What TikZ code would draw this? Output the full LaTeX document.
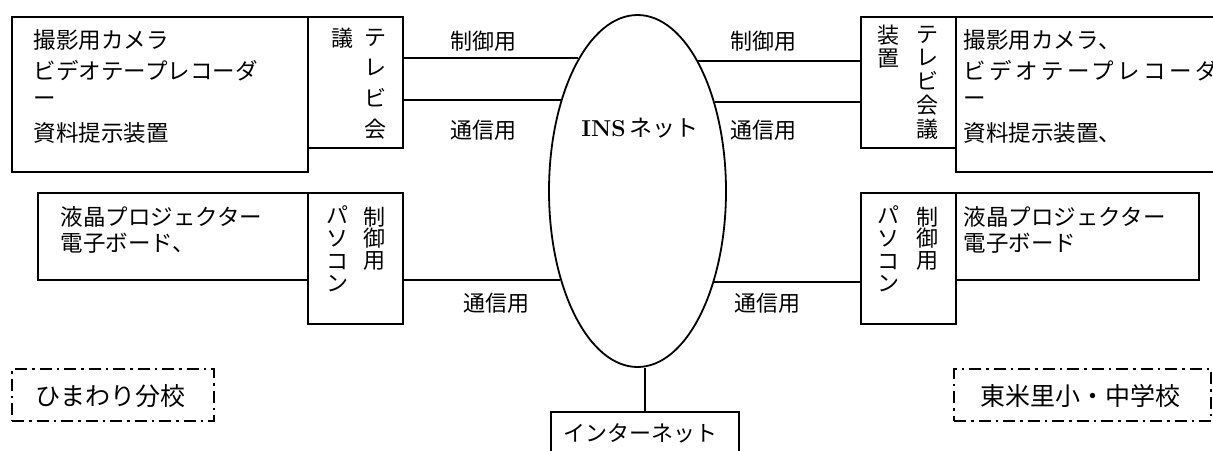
\documentclass[tikz,border=0pt]{standalone}
\usepackage{fontspec}
\newfontfamily\jp{Noto Sans CJK JP}
\usetikzlibrary{shapes.geometric}
\tikzset{
  box/.style={draw, line width=1.8pt, anchor=north west, inner sep=0pt},
  txt/.style={font=\jp\fontsize{22.5}{24}\selectfont, inner sep=0pt, anchor=west},
  vtxt/.style={font=\jp\fontsize{22}{#1}\selectfont, inner sep=0pt, align=center},
  vtxt/.default=23,
  lbl/.style={font=\jp\fontsize{22}{24}\selectfont, inner sep=0pt},
  school/.style={draw, line width=2pt, anchor=north west, inner sep=0pt,
    dash pattern=on 12pt off 5pt on 2.5pt off 5pt}
}
\begin{document}
\begin{tikzpicture}[x=1pt, y=-1pt, line width=1.8pt]
    \clip (0,0) rectangle (1213,450);
    % INSネット
    \node[draw, ellipse, line width=1.8pt, minimum width=177, minimum height=352] (ins) at (637.5,191) {};
    \node[inner sep=0pt] (insLbl) at (640,128) {\fontsize{23}{24}\selectfont\textbf{INS}\,{\jp ネット}};
    % ひまわり分校 側
    \node[box, minimum width=296, minimum height=155] (camL) at (11,16) {};
    \node[box, minimum width=95, minimum height=131] (tvL) at (307,16) {};
    \node[box, minimum width=270, minimum height=87] (lcdL) at (37,192) {};
    \node[box, minimum width=95, minimum height=131] (pcL) at (307,192) {};
    \node[txt] (camL1) at (33,40) {撮影用カメラ};
    \node[txt] (camL2) at (33,71) {ビデオテープレコーダ};
    \node[txt] (camL3) at (33,102) {ー};
    \node[txt] (camL4) at (33,133) {資料提示装置};
    \node[vtxt=30.7] (tvLa) at (375,84) {テ\\レ\\ビ\\会};
    \node[vtxt] (tvLb) at (342,38) {議};
    \node[txt] (lcdL1) at (60,217) {液晶プロジェクター};
    \node[txt] (lcdL2) at (60,243) {電子ボード、};
    \node[vtxt=21.5] (pcLa) at (374,238.5) {制\\御\\用};
    \node[vtxt=22.7] (pcLb) at (337,249) {パ\\ソ\\コ\\ン};
    % 東米里小・中学校 側
    \node[box, minimum width=95, minimum height=131] (tvR) at (860,16) {};
    \node[box, minimum width=280, minimum height=155] (camR) at (955,16) {};
    \node[box, minimum width=95, minimum height=131] (pcR) at (860,192) {};
    \node[box, minimum width=243, minimum height=87] (lcdR) at (955,192) {};
    \node[txt] (camR1) at (963,40) {撮影用カメラ、};
    \node[txt, font=\jp\fontsize{22.5}{24}\selectfont\addfontfeature{LetterSpace=15}] (camR2) at (963,71) {ビデオテープレコーダ};
    \node[txt] (camR3) at (963,102) {ー};
    \node[txt] (camR4) at (963,133) {資料提示装置、};
    \node[vtxt=23.75] (tvRa) at (927,82.5) {テ\\レ\\ビ\\会\\議};
    \node[vtxt=23] (tvRb) at (888,46.5) {装\\置};
    \node[txt] (lcdR1) at (963,217) {液晶プロジェクター};
    \node[txt] (lcdR2) at (963,243) {電子ボード};
    \node[vtxt=21.5] (pcRa) at (927,238.5) {制\\御\\用};
    \node[vtxt=22.7] (pcRb) at (888,249) {パ\\ソ\\コ\\ン};
    % 回線
    \draw (ins.114.2) -- (ins.114.2 -| tvL.east);
    \draw (ins.130.9) -- (ins.130.9 -| tvL.east);
    \draw (ins.229.1) -- (ins.229.1 -| pcL.east);
    \draw (ins.65.8) -- (ins.65.8 -| tvR.west);
    \draw (ins.49.1) -- (ins.49.1 -| tvR.west);
    \draw (ins.310.9) -- (ins.310.9 -| pcR.west);
    \node[lbl] (ctlL) at (483,41) {制御用};
    \node[lbl] (comL) at (483,130) {通信用};
    \node[lbl] (comL2) at (496,303) {通信用};
    \node[lbl] (ctlR) at (763,41) {制御用};
    \node[lbl] (comR) at (763,130) {通信用};
    \node[lbl] (comR2) at (767,303) {通信用};
    % インターネット
    \node[box, minimum width=188, minimum height=60] (net) at (550,411) {};
    \node[lbl] (netLbl) at (640,433) {インターネット};
    \draw (net.north) -- (net.north |- ins.south);
    % 学校名
    \node[school, minimum width=202, minimum height=52] (schL) at (11,368) {};
    \node[lbl, font=\jp\fontsize{25}{26}\selectfont] (schLLbl) at (110,396) {ひまわり分校};
    \node[school, minimum width=257, minimum height=52] (schR) at (953,368) {};
    \node[lbl, font=\jp\fontsize{25}{26}\selectfont] (schRLbl) at (1080,396) {東米里小・中学校};
\end{tikzpicture}
\end{document}
